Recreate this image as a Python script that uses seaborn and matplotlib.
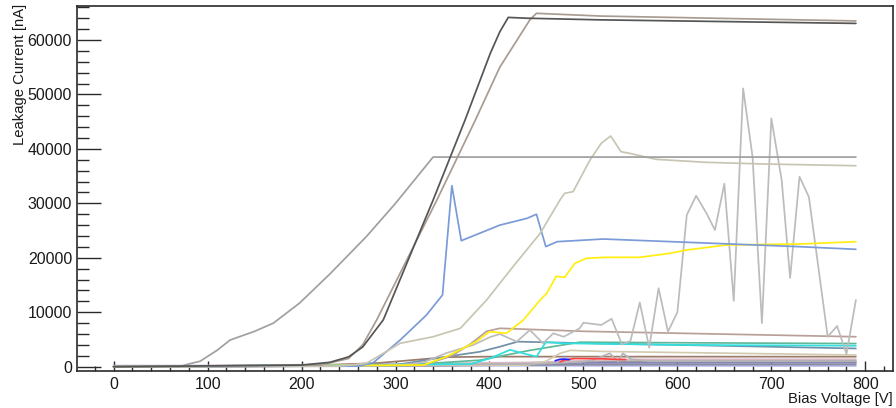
import numpy as np
import pandas as pd
import matplotlib
matplotlib.use("Agg")
import matplotlib.pyplot as plt
from matplotlib.ticker import MultipleLocator
import seaborn as sns

# ---- data: (bias voltage [V], leakage current [nA]) per sensor ----
q1_v = [0, 300, 500, 790]
q1_i = [200, 200, 180, 150]
q2_v = [0, 300, 500, 790]
q2_i = [0, 150, 400, 450]
q3_v = [0, 350, 500, 790]
q3_i = [0, 200, 700, 750]
q4_v = [0, 400, 500, 790]
q4_i = [0, 500, 1000, 1050]
q5_v = [0, 450, 550, 790]
q5_i = [0, 800, 1350, 1360]

m_v = [0, 200, 283, 354, 400, 790]
m_i = [0, 100, 700, 1750, 1850, 1840]
n_v = [0, 440, 460, 475, 486, 520, 790]
n_i = [0, 300, 1000, 2450, 3000, 2800, 2150]
red_v = [475, 480, 490, 520, 545]
red_i = [900, 1200, 1500, 1450, 1300]
blu_v = [470, 475, 480, 485]
blu_i = [1100, 1350, 1400, 1300]
o_v = [0, 450, 500, 510, 528, 537, 542, 551, 570, 790]
o_i = [0, 500, 900, 1220, 2450, 920, 2450, 1360, 1000, 1000]

j_v = [0, 300, 354, 390, 411, 430, 520, 600, 790]
j_i = [0, 300, 1840, 2750, 3670, 4600, 4250, 4000, 3350]
k_v = [0, 380, 400, 422, 436, 450, 460, 480, 600, 790]
k_i = [0, 500, 1500, 3100, 2450, 1850, 4500, 4300, 4000, 3850]
l_v = [0, 300, 390, 443, 496, 600, 790]
l_i = [0, 200, 1200, 3000, 4500, 4400, 4250]
h_v = [0, 330, 360, 380, 397, 411, 500, 600, 790]
h_i = [0, 300, 2000, 4200, 6500, 7050, 6500, 6150, 5500]

g_v = [0, 300, 330, 354, 383, 400, 411, 429, 443, 457, 468, 479, 496, 500,
       519, 530, 541, 550, 560, 570, 580, 590, 600, 610, 620, 631, 640, 650,
       660, 670, 680, 690, 700, 711, 720, 730, 740, 760, 770, 780, 790]
g_i = [0, 200, 800, 2500, 4000, 5400, 6000, 4600, 6740, 4300, 6130, 5500, 7050, 8080,
       7660, 8800, 4100, 4700, 11800, 3500, 14400, 6430, 10000, 27860, 31400, 28170, 25100, 33600,
       12100, 51100, 38570, 8000, 45600, 34300, 16300, 34900, 31170, 5500, 7470, 2330, 12250]

e_v = [0, 330, 354, 386, 400, 418, 436, 454, 461, 471, 480, 491, 503, 521, 560,
       592, 610, 652, 730, 790]
e_i = [0, 300, 1840, 4600, 6430, 6130, 8570, 12250, 13480, 16600, 16420, 18990, 19900,
       20080, 20090, 20820, 21430, 22350, 22530, 22960]

d_v = [0, 260, 276, 305, 333, 350, 360, 370, 411, 440, 450, 460, 472, 521, 610, 730, 790]
d_i = [0, 100, 680, 4900, 9500, 13170, 33250, 23140, 26000, 27250, 28000, 22050, 22960,
       23450, 22850, 22040, 21560]

f_v = [0, 240, 269, 305, 340, 369, 397, 425, 454, 475, 480, 489, 507, 519, 529, 540,
       549, 577, 630, 691, 790]
f_i = [0, 100, 620, 4300, 5500, 7050, 12250, 18360, 24500, 30600, 31850, 32140, 37960,
       41030, 42370, 39490, 39190, 38090, 37540, 37230, 36910]

a_v = [0, 70, 80, 92, 110, 124, 150, 170, 198, 230, 269, 300, 340, 790]
a_i = [0, 0, 500, 1000, 3000, 4900, 6500, 8000, 11700, 17000, 23900, 30000, 38500, 38500]

c_v = [0, 220, 250, 265, 280, 344, 385, 411, 443, 450, 518, 790]
c_i = [0, 300, 1500, 4000, 8600, 30600, 45300, 55000, 63700, 64900, 64400, 63500]
b_v = [0, 200, 230, 250, 265, 287, 340, 374, 401, 411, 420, 440, 518, 790]
b_i = [0, 300, 800, 1800, 3600, 8600, 30600, 45300, 57600, 61500, 64150, 64000, 63700, 63050]

series = [
    ("q1", q1_v, q1_i, "#aab0e0"),
    ("q2", q2_v, q2_i, "#8c8c9c"),
    ("q3", q3_v, q3_i, "#8080b8"),
    ("q4", q4_v, q4_i, "#9c9c9c"),
    ("q5", q5_v, q5_i, "#d8b8c4"),
    ("m", m_v, m_i, "#9c7a6a"),
    ("n", n_v, n_i, "#d2cbb0"),
    ("o", o_v, o_i, "#b4b4b4"),
    ("red", red_v, red_i, "#ff4040"),
    ("blu", blu_v, blu_i, "#2020ff"),
    ("j", j_v, j_i, "#7090a8"),
    ("l", l_v, l_i, "#60b898"),
    ("k", k_v, k_i, "#30e0e0"),
    ("h", h_v, h_i, "#b8a098"),
    ("g", g_v, g_i, "#bcbcbc"),
    ("e", e_v, e_i, "#ffee10"),
    ("d", d_v, d_i, "#7a9ad8"),
    ("f", f_v, f_i, "#c8c6b2"),
    ("a", a_v, a_i, "#a0a0a0"),
    ("c", c_v, c_i, "#a89c92"),
    ("b", b_v, b_i, "#555555"),
]

frames = [pd.DataFrame({"V": v, "I": i, "s": name}) for name, v, i, _ in series]
df = pd.concat(frames, ignore_index=True)
palette = {name: col for name, _, _, col in series}

sns.set_style("white")
plt.rcParams["font.family"] = ["Liberation Sans", "DejaVu Sans"]

fig = plt.figure(figsize=(8.96, 4.08), dpi=100)
ax = fig.add_axes([77 / 896, 1 - 371 / 408, (893 - 77) / 896, (371 - 6) / 408])

sns.lineplot(data=df, x="V", y="I", hue="s", palette=palette, hue_order=[s[0] for s in series],
             estimator=None, legend=False, linewidth=1.25, ax=ax)

ax.set_xlim(-39, 829.5)
ax.set_ylim(-790, 66245)
ax.xaxis.set_major_locator(MultipleLocator(100))
ax.xaxis.set_minor_locator(MultipleLocator(20))
ax.yaxis.set_major_locator(MultipleLocator(10000))
ax.yaxis.set_minor_locator(MultipleLocator(2000))

for sp in ax.spines.values():
    sp.set_visible(True)
    sp.set_color("#2a2a2a")
    sp.set_linewidth(1.2)

ax.tick_params(axis="y", which="major", direction="in", length=17, width=1.0,
               color="#2a2a2a", labelsize=11.5, pad=3.6, left=True, right=False)
ax.tick_params(axis="y", which="minor", direction="in", length=8.6, width=1.0,
               color="#2a2a2a", left=True, right=False)
ax.tick_params(axis="x", which="major", direction="in", length=7.5, width=1.0,
               color="#2a2a2a", labelsize=11.5, pad=4.0, bottom=True, top=False)
ax.tick_params(axis="x", which="minor", direction="in", length=3.7, width=1.0,
               color="#2a2a2a", bottom=True, top=False)
ax.set_xlabel("")
ax.set_ylabel("")
for lab in ax.get_xticklabels() + ax.get_yticklabels():
    lab.set_color("#1a1a1a")

fig.text(893 / 896, 1 - 403.5 / 408, "Bias Voltage [V]", ha="right", va="baseline",
         fontsize=10.7, color="#1a1a1a")
fig.text(24.5 / 896, 1 - 4 / 408, "Leakage Current [nA]", rotation=90, rotation_mode="anchor",
         ha="right", va="baseline", fontsize=10.7, color="#1a1a1a")

fig.savefig("out.png", dpi=100, facecolor="white")
